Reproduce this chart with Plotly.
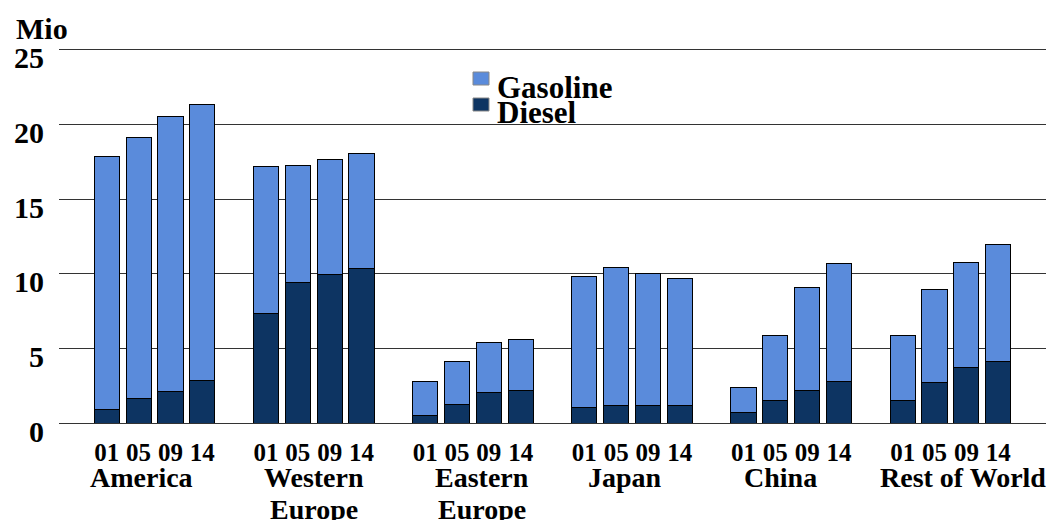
import plotly.graph_objects as go

# Vehicle sales (millions) by region and year, split by fuel type
regions = ["America", "Western\nEurope", "Eastern\nEurope", "Japan", "China", "Rest of World"]
years = ["01", "05", "09", "14"]

total = [
    [17.87, 19.15, 20.56, 21.33],   # America
    [17.18, 17.29, 17.63, 18.06],   # Western Europe
    [2.79, 4.11, 5.39, 5.59],       # Eastern Europe
    [9.81, 10.42, 10.03, 9.70],     # Japan
    [2.41, 5.86, 9.05, 10.70],      # China
    [5.86, 8.94, 10.75, 11.96],     # Rest of World
]
diesel = [
    [0.92, 1.65, 2.10, 2.86],
    [7.33, 9.43, 9.97, 10.35],
    [0.47, 1.23, 2.04, 2.17],
    [1.03, 1.19, 1.19, 1.19],
    [0.69, 1.52, 2.21, 2.77],
    [1.52, 2.73, 3.69, 4.11],
]
y_ticks = [0, 5, 10, 15, 20, 25]

# ---- styling ----
FONT = "Liberation Serif"
GAS_COLOR = "#5a8bdb"
DIESEL_COLOR = "#0d3462"
GRID_COLOR = "#333333"
W, H = 1061, 520
M_L, M_R, M_T, M_B = 59, 15, 47, 97
PW = W - M_L - M_R
PH = H - M_T - M_B
Y_MAX = 25.2

# slot layout: each region takes 4 slots followed by one empty slot
SLOTS_PER_GROUP = len(years) + 1
label_xshift = [-13, 0, 9, -7, -11, 13]

xs, gas_vals, dsl_vals, tick_text = [], [], [], []
for g in range(len(regions)):
    for j, yr in enumerate(years):
        xs.append(g * SLOTS_PER_GROUP + j + 1)
        dsl_vals.append(diesel[g][j])
        gas_vals.append(round(total[g][j] - diesel[g][j], 2))
        tick_text.append(yr)

fig = go.Figure()
fig.add_trace(go.Bar(
    x=xs, y=dsl_vals, name="Diesel", width=0.79,
    marker=dict(color=DIESEL_COLOR, line=dict(color="#000000", width=1)),
    showlegend=False,
))
fig.add_trace(go.Bar(
    x=xs, y=gas_vals, name="Gasoline", width=0.79,
    marker=dict(color=GAS_COLOR, line=dict(color="#000000", width=1)),
    showlegend=False,
))

annotations = []
# region names below the year labels
for g, name in enumerate(regions):
    cx = g * SLOTS_PER_GROUP + (len(years) + 1) / 2
    for k, line in enumerate(name.split("\n")):
        annotations.append(dict(
            x=cx, xref="x", y=0, yref="paper",
            text=line, showarrow=False,
            xanchor="center", yanchor="middle",
            xshift=label_xshift[g], yshift=-54 - 32 * k,
            font=dict(family=FONT, size=28, color="#000000", weight="bold"),
        ))

# unit label
annotations.append(dict(
    x=0, xref="paper", y=1, yref="paper", text="Mio", showarrow=False,
    xanchor="left", yanchor="middle", xshift=-45, yshift=19,
    font=dict(family=FONT, size=30, color="#000000", weight="bold"),
))

# legend (text + swatches)
def px_x(px):
    return (px - M_L) / PW

def px_y(py):
    return (H - M_B - py) / PH

legend_items = [("Gasoline", GAS_COLOR, 72, 87), ("Diesel", DIESEL_COLOR, 98, 112)]
shapes = []
for label, color, sq_top, text_mid in legend_items:
    shapes.append(dict(
        type="rect", xref="paper", yref="paper",
        x0=px_x(473), x1=px_x(489), y0=px_y(sq_top + 13), y1=px_y(sq_top),
        fillcolor=color, line=dict(color="#888888", width=1),
    ))
    annotations.append(dict(
        x=px_x(495), xref="paper", y=px_y(text_mid), yref="paper",
        text=label, showarrow=False, xanchor="left", yanchor="middle",
        font=dict(family=FONT, size=31, color="#000000", weight="bold"),
    ))

fig.update_layout(
    width=W, height=H,
    margin=dict(l=M_L, r=M_R, t=M_T, b=M_B, pad=0),
    barmode="stack",
    plot_bgcolor="#ffffff", paper_bgcolor="#ffffff",
    font=dict(family=FONT, color="#000000"),
    annotations=annotations,
    shapes=shapes,
    xaxis=dict(
        range=[-0.5, len(regions) * SLOTS_PER_GROUP + 0.5],
        tickmode="array", tickvals=xs, ticktext=tick_text,
        tickfont=dict(family=FONT, size=25, color="#000000", weight="bold"),
        ticks="", showgrid=False, zeroline=False, showline=False,
        ticklabelstandoff=12, fixedrange=True,
    ),
    yaxis=dict(
        range=[0, Y_MAX], tickmode="array", tickvals=y_ticks,
        tickfont=dict(family=FONT, size=30, color="#000000", weight="bold"),
        showgrid=True, gridcolor=GRID_COLOR, gridwidth=1,
        zeroline=True, zerolinecolor=GRID_COLOR, zerolinewidth=1,
        showline=False, ticks="", ticklabelstandoff=14,
        ticklabelshift=8, fixedrange=True,
    ),
)

fig.write_html("out.html")
